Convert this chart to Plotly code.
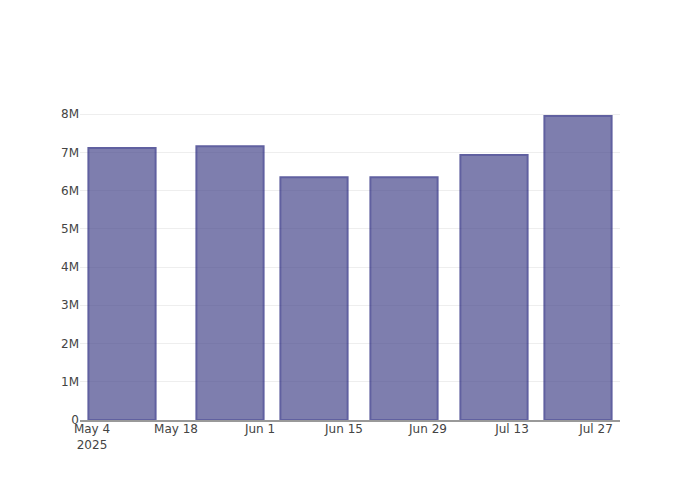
import plotly.graph_objects as go

dates = ["2025-05-09", "2025-05-27", "2025-06-10", "2025-06-25", "2025-07-10", "2025-07-24"]
values = [7110000, 7160000, 6350000, 6350000, 6930000, 7950000]

fig = go.Figure(
    go.Bar(
        x=dates,
        y=values,
        marker=dict(color="rgb(72,72,140)", line=dict(color="rgb(30,30,120)", width=2)),
        opacity=0.7,
    )
)

# page body has an 8px margin; compensate so the plot area lands at 80..620 x 100..420
fig.update_layout(
    width=692,
    height=492,
    plot_bgcolor="white",
    paper_bgcolor="white",
    font=dict(family="DejaVu Sans, sans-serif", size=12, color="#444"),
    showlegend=False,
    margin=dict(l=72, r=80, t=92, b=80),
)
fig.update_xaxes(showgrid=False, showline=True, linecolor="#999", linewidth=1.5, ticks="",
                 zeroline=False, automargin=False, ticklabelstandoff=-3)
fig.update_yaxes(showgrid=True, gridcolor="#eee", showline=False, ticks="", zeroline=False,
                 automargin=False)

fig.write_html("out.html")
